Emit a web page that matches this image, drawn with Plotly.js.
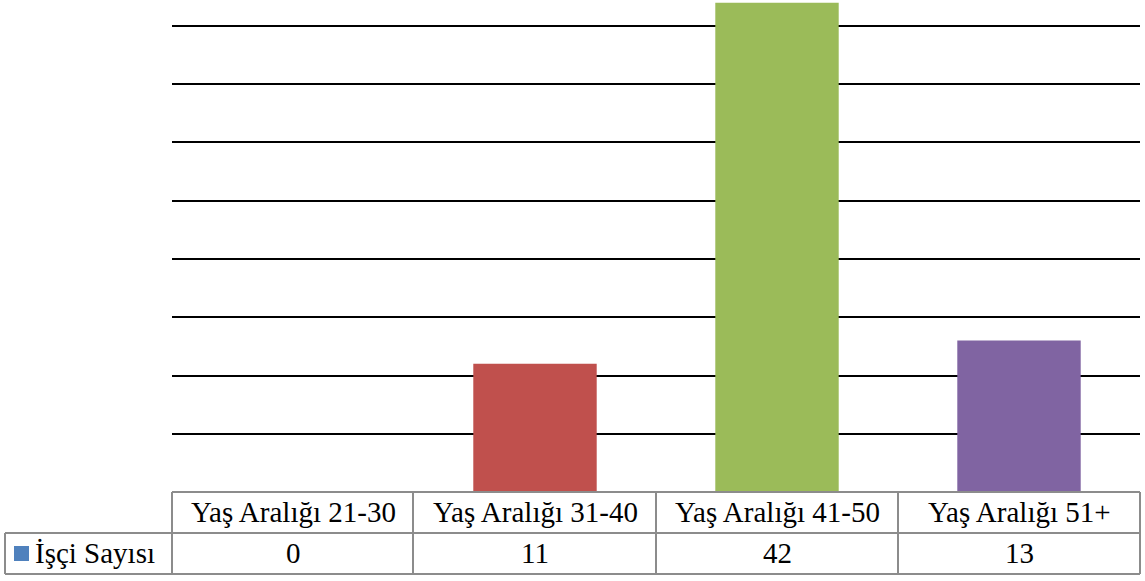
<!DOCTYPE html>
<html>
<head>
<meta charset="utf-8">
<script src="https://cdn.plot.ly/plotly-3.0.1.min.js"></script>
<style>
html,body{margin:0;padding:0;background:#fff;}
#chart{width:1145px;height:581px;}
#chart svg text, #chart .annotation-text{font-family:"Liberation Serif", serif !important;}
</style>
</head>
<body>
<div id="chart"></div>
<script>
const categories = ["Yaş Aralığı 21-30", "Yaş Aralığı 31-40", "Yaş Aralığı 41-50", "Yaş Aralığı 51+"];
const values = [0, 11, 42, 13];
const seriesName = "İşçi Sayısı";
const barColors = ["#4F81BD", "#C0504D", "#9BBB59", "#8064A2"];

const W = 1145, H = 581;
const mL = 172, mR = 5, mT = 0, mB = 89;
const plotH = H - mT - mB;
function toPaperY(pix) { return (H - mB - pix) / plotH; }
function toPaperX(pix) { return (pix - mL) / (W - mL - mR); }
function tableFont() { return {family: "Liberation Serif", size: 29, color: "#000"}; }

const borderColor = "#8c8c8c";
const yHead = 492, yMid = 533, yBot = 574;
const colEdges = [172, 413, 656, 898, 1140];

const shapes = [];
function addLine(x0, y0, x1, y1) {
  shapes.push({type: "line", xref: "paper", yref: "paper", x0: toPaperX(x0), x1: toPaperX(x1), y0: toPaperY(y0), y1: toPaperY(y1),
    line: {color: borderColor, width: 2}});
}
addLine(172, yHead, 1140, yHead);
addLine(5, yMid, 1140, yMid);
addLine(5, yBot, 1140, yBot);
addLine(5, yMid, 5, yBot);
colEdges.forEach(x => addLine(x, yHead, x, yBot));
shapes.push({type: "rect", xref: "paper", yref: "paper", x0: toPaperX(14), x1: toPaperX(29), y0: toPaperY(561), y1: toPaperY(546),
  fillcolor: barColors[0], line: {width: 0}});

const annotations = [];
categories.forEach((c, i) => {
  annotations.push({x: c, xref: "x", y: toPaperY(512), yref: "paper", text: c, showarrow: false,
    font: tableFont(), xanchor: "center", yanchor: "middle"});
  annotations.push({x: c, xref: "x", y: toPaperY(553), yref: "paper", text: String(values[i]), showarrow: false,
    font: tableFont(), xanchor: "center", yanchor: "middle"});
});
annotations.push({x: toPaperX(33), xref: "paper", y: toPaperY(553), yref: "paper", text: seriesName, showarrow: false,
  font: tableFont(), xanchor: "left", yanchor: "middle"});

const trace = {
  type: "bar", x: categories, y: values, name: seriesName,
  marker: {color: barColors}, width: 0.51
};

const layout = {
  width: W, height: H,
  margin: {l: mL, r: mR, t: mT, b: mB},
  showlegend: false,
  xaxis: {type: "category", range: [-0.5, 3.5], showticklabels: false, ticks: "", showgrid: false, zeroline: false, showline: false},
  yaxis: {range: [0, 42.23], dtick: 5, tick0: 0, showticklabels: false, ticks: "", showgrid: true, gridcolor: "#000", gridwidth: 2,
    zeroline: true, zerolinecolor: borderColor, zerolinewidth: 2, showline: false},
  shapes: shapes,
  annotations: annotations
};

Plotly.newPlot("chart", [trace], layout, {displayModeBar: false, staticPlot: true});
</script>
</body>
</html>
